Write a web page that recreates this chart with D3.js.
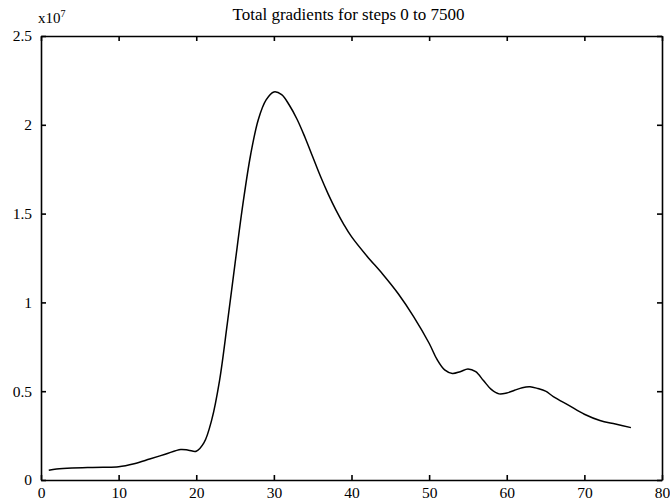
<!DOCTYPE html>
<html>
<head>
<meta charset="utf-8">
<script src="https://cdn.jsdelivr.net/npm/d3@7"></script>
<style>
  body { margin: 0; background: #fff; }
  svg { display: block; }
  .axis path, .axis line { stroke: #000; stroke-width: 1.6; }
  .axis text { font-family: "Liberation Serif", "Times New Roman", serif; font-size: 15.5px; fill: #000; }
</style>
</head>
<body>
<div id="chart"></div>
<script>
// step index (x) and total gradient (units of 1e7)
const steps = [1, 2, 4, 6, 8, 10, 12, 14, 16, 18, 19, 20, 21, 22, 23, 24, 25, 26, 27, 28, 29, 30,
    31, 32, 33, 34, 35, 36, 37, 38, 39, 40, 42, 44, 46, 48, 50, 51, 52, 53, 54, 55, 56, 57, 58,
    59, 60, 61, 62, 63, 64, 65, 66, 68, 70, 72, 74, 76];
const gradients = [0.055, 0.062, 0.068, 0.070, 0.072, 0.075, 0.092, 0.118, 0.145, 0.172, 0.168, 0.162,
    0.21, 0.34, 0.56, 0.88, 1.22, 1.55, 1.83, 2.03, 2.14, 2.185, 2.17, 2.11, 2.03, 1.93, 1.82, 1.71,
    1.61, 1.52, 1.44, 1.37, 1.26, 1.16, 1.05, 0.92, 0.77, 0.68, 0.62, 0.60, 0.61, 0.625, 0.61, 0.56,
    0.51, 0.485, 0.49, 0.505, 0.52, 0.525, 0.515, 0.50, 0.47, 0.42, 0.37, 0.335, 0.315, 0.295];
const xTicks = [0, 10, 20, 30, 40, 50, 60, 70, 80];
const yTicks = [0, 0.5, 1, 1.5, 2, 2.5];

const data = steps.map((s, i) => ({ x: s, y: gradients[i] }));

const margin = { top: 36, right: 8, bottom: 20, left: 41 };
const width = 670 - margin.left - margin.right;
const height = 500 - margin.top - margin.bottom;

const svg = d3.select("#chart").append("svg")
    .attr("width", 670)
    .attr("height", 500);

const g = svg.append("g")
    .attr("transform", `translate(${margin.left}, ${margin.top})`);

const x = d3.scaleLinear().domain([0, 80]).range([0, width]);
const y = d3.scaleLinear().domain([0, 2.5]).range([height, 0]);

const fmt = d => String(d);

// bottom + left with labels, ticks pointing inward
g.append("g")
    .attr("class", "x axis")
    .attr("transform", `translate(0, ${height})`)
    .call(d3.axisBottom(x).tickValues(xTicks).tickFormat(fmt).tickSizeInner(-5).tickSizeOuter(0))
    .selectAll("text")
        .attr("y", 18)
        .attr("dy", 0);

g.append("g")
    .attr("class", "y axis")
    .call(d3.axisLeft(y).tickValues(yTicks).tickFormat(fmt).tickSizeInner(-5).tickSizeOuter(0).tickPadding(9));

// top + right, ticks only
g.append("g")
    .attr("class", "axis")
    .call(d3.axisTop(x).tickValues(xTicks).tickFormat("").tickSizeInner(-5).tickSizeOuter(0));

g.append("g")
    .attr("class", "axis")
    .attr("transform", `translate(${width}, 0)`)
    .call(d3.axisRight(y).tickValues(yTicks).tickFormat("").tickSizeInner(-5).tickSizeOuter(0));

const line = d3.line()
    .x(d => x(d.x))
    .y(d => y(d.y))
    .curve(d3.curveCatmullRom.alpha(0.5));

g.append("path")
    .datum(data)
    .attr("fill", "none")
    .attr("stroke", "#000")
    .attr("stroke-width", 1.5)
    .attr("d", line);

// title
svg.append("text")
    .attr("x", margin.left + width / 2 - 3)
    .attr("y", 20)
    .attr("text-anchor", "middle")
    .style("font-family", "Liberation Serif, Times New Roman, serif")
    .style("font-size", "17px")
    .text("Total gradients for steps 0 to 7500");

// exponent label
const expo = svg.append("text")
    .attr("x", 38)
    .attr("y", 23)
    .style("font-family", "Liberation Serif, Times New Roman, serif")
    .style("font-size", "15px");
expo.append("tspan").text("x10");
expo.append("tspan").attr("dy", -6).style("font-size", "10px").text("7");
</script>
</body>
</html>
